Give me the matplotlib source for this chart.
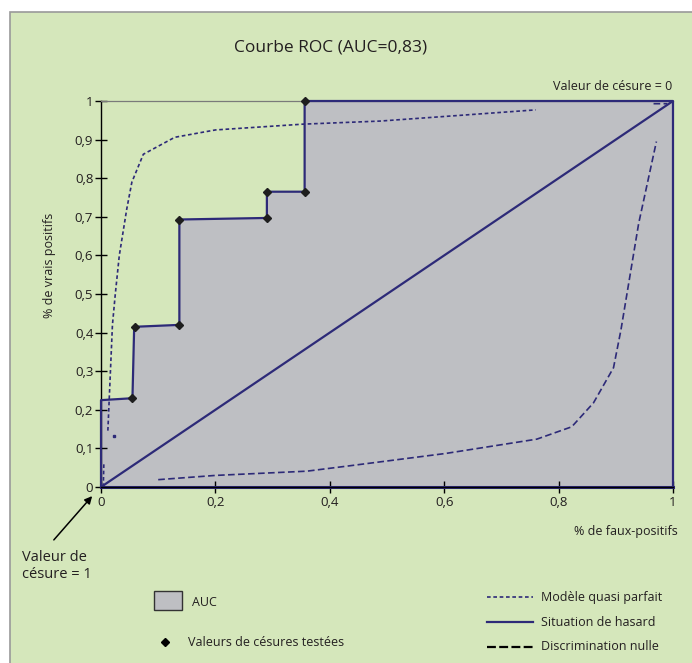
import numpy as np
import matplotlib
matplotlib.use("Agg")
import matplotlib.pyplot as plt
from matplotlib.patches import Rectangle, FancyArrowPatch
from matplotlib.lines import Line2D

plt.rcParams['font.family'] = ['Open Sans', 'DejaVu Sans']

# -----------------------
# Data
# -----------------------
# tested cut-off values (ROC steps)
roc_fpr = [0.0, 0.0, 0.055, 0.058, 0.137, 0.137, 0.290, 0.290, 0.356, 0.356, 1.0, 1.0]
roc_tpr = [0.0, 0.225, 0.230, 0.415, 0.420, 0.693, 0.697, 0.765, 0.765, 1.0, 1.0, 0.0]
pts_fpr = [0.055, 0.060, 0.137, 0.137, 0.290, 0.290, 0.356, 0.356]
pts_tpr = [0.230, 0.415, 0.420, 0.693, 0.697, 0.765, 0.765, 1.0]

# near-perfect model (visible pieces, NaN = hidden)
quasi_fpr = [0.004, 0.005, np.nan, 0.012, 0.020, 0.025, 0.032, 0.045, 0.054, 0.074,
             0.129, 0.20, 0.353, 0.488, 0.62, 0.76]
quasi_tpr = [0.0, 0.062, np.nan, 0.146, 0.42, 0.50, 0.60, 0.72, 0.79, 0.862,
             0.906, 0.925, 0.940, 0.948, 0.962, 0.977]
quasi_dot = (0.023, 0.132)

# no-discrimination curve
null_fpr = [0.10, 0.20, 0.36, 0.435, 0.603, 0.762, 0.823, 0.861, 0.896, 0.909, 0.94, 0.971,
            np.nan, 0.966, 0.99]
null_tpr = [0.019, 0.030, 0.041, 0.055, 0.087, 0.124, 0.156, 0.218, 0.309, 0.407, 0.683, 0.895,
            np.nan, 0.993, 0.993]

x_ticks = [0, 0.2, 0.4, 0.6, 0.8, 1]
x_labels = ["0", "0,2", "0,4", "0,6", "0,8", "1"]
y_ticks = [i / 10 for i in range(11)]
y_labels = ["0"] + ["0,%d" % i for i in range(1, 10)] + ["1"]

# -----------------------
# Style
# -----------------------
W, H = 692, 663
green = "#d5e7bb"
navy = "#2d2a78"
grey_fill = "#bebfc3"
txt = "#231f20"
fs = 9.0

def px(x, y):
    return (x / W, 1 - y / H)

fig = plt.figure(figsize=(W / 100, H / 100), dpi=100, facecolor="white")
bg = Rectangle(px(10, H + 5), 1.2, (H - 12 + 5) / H, transform=fig.transFigure,
               facecolor=green, edgecolor="#9a9a9a", linewidth=1.2, zorder=-10)
fig.patches.append(bg)

ax = fig.add_axes([101 / W, (H - 487) / H, 572 / W, 386 / H])
ax.set_zorder(2)
ax.set_facecolor("none")
ax.set_xlim(0, 1)
ax.set_ylim(0, 1)

# AUC area
ax.fill_between(roc_fpr, roc_tpr, 0, color=grey_fill, linewidth=0, zorder=1)
ax.plot(roc_fpr, roc_tpr, color=navy, lw=1.6, zorder=4, clip_on=False)
ax.plot([0, 1], [0, 0], color=navy, lw=2.2, zorder=4, clip_on=False)
# chance line
ax.plot([0, 1], [0, 1], color=navy, lw=1.6, zorder=3)
# curves
ax.plot(quasi_fpr, quasi_tpr, color=navy, lw=1.2, ls=(0, (2.2, 1.6)), zorder=3)
ax.plot([quasi_dot[0]], [quasi_dot[1]], marker="s", ms=1.6, color=navy, zorder=3)
ax.plot(null_fpr, null_tpr, color=navy, lw=1.2, ls=(0, (4, 2)), zorder=3)
ax.plot(pts_fpr, pts_tpr, ls="none", marker="D", ms=4.5, color="#1e1e1e", zorder=5, clip_on=False)

ax.spines["right"].set_visible(False)
ax.spines["top"].set_color("#7a7a7a")
ax.spines["top"].set_linewidth(0.9)
ax.spines["left"].set_color("black")
ax.spines["bottom"].set_color("black")
ax.spines["left"].set_linewidth(1.0)
ax.spines["bottom"].set_linewidth(1.0)
ax.spines["bottom"].set_zorder(6)

ax.set_xticks(x_ticks)
ax.set_xticklabels(x_labels)
ax.set_yticks(y_ticks)
ax.set_yticklabels(y_labels)
ax.tick_params(direction="inout", length=9, width=1.0, color="black", labelsize=9.5,
               labelcolor=txt, pad=1)
ax.tick_params(axis="x", pad=2)

# text
fig.text(*px(331, 47), "Courbe ROC (AUC=0,83)", ha="center", va="center", fontsize=12.5, color=txt)
fig.text(*px(672, 87), "Valeur de césure = 0", ha="right", va="center", fontsize=fs, color=txt)
fig.text(*px(678, 532), "% de faux-positifs", ha="right", va="center", fontsize=fs, color=txt)
fig.text(*px(50, 265), "% de vrais positifs", ha="center", va="center", rotation=90,
         fontsize=fs, color=txt)
fig.text(*px(22, 566), "Valeur de\ncésure = 1", ha="left", va="center", fontsize=10.5,
         color=txt, linespacing=1.2)
fig.add_artist(FancyArrowPatch(px(52, 542), px(94, 494), transform=fig.transFigure,
                               arrowstyle="-|>", mutation_scale=11, color="black", lw=1.1))

# legend
fig.patches.append(Rectangle(px(154, 610), 28 / W, 19 / H, transform=fig.transFigure,
                             facecolor=grey_fill, edgecolor="#333333", linewidth=1.0))
fig.text(*px(192, 602), "AUC", ha="left", va="center", fontsize=fs, color=txt)
fig.add_artist(Line2D([165 / W], [1 - 642 / H], marker="D", ms=4, color="black",
                      transform=fig.transFigure))
fig.text(*px(188, 642), "Valeurs de césures testées", ha="left", va="center", fontsize=fs, color=txt)

leg = [("Modèle quasi parfait", navy, (0, (2.2, 1.6)), 1.2, 597),
       ("Situation de hasard", navy, "-", 1.6, 622),
       ("Discrimination nulle", "black", (0, (4, 1.5)), 1.6, 647)]
for label, c, ls, lw, yy in leg:
    fig.add_artist(Line2D([487 / W, 533 / W], [1 - yy / H] * 2, color=c, ls=ls, lw=lw,
                          transform=fig.transFigure))
    fig.text(*px(541, yy), label, ha="left", va="center", fontsize=fs, color=txt)

fig.savefig("out.png", dpi=100, facecolor="white")
